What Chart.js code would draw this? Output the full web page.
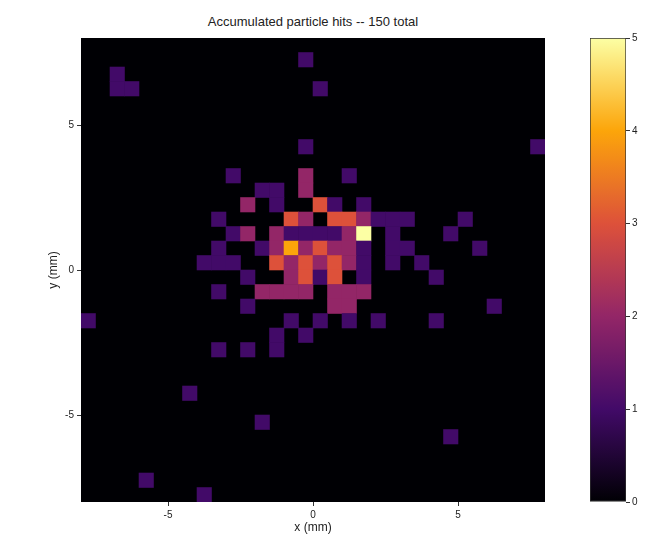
<!DOCTYPE html>
<html>
<head>
<meta charset="utf-8">
<script src="https://cdn.jsdelivr.net/npm/chart.js@4/dist/chart.umd.min.js"></script>
<style>
  body { margin: 0; background: #fff; font-family: "Liberation Sans", Arial, sans-serif; }
  #wrap { position: relative; width: 650px; height: 550px; }
  #title { position: absolute; top: 14px; left: 81px; width: 464px; text-align: center; font-size: 13px; color: #222; }
  #main { position: absolute; left: 0; top: 0; }
  #bar { position: absolute; left: 560px; top: 0; }
</style>
</head>
<body>
<div id="wrap">
  <div id="title">Accumulated particle hits -- 150 total</div>
  <canvas id="main" width="560" height="550"></canvas>
  <canvas id="bar" width="90" height="550"></canvas>
</div>
<script>
// 32x32 bins of 0.5 mm from -8 to 8 mm; only non-empty bins are listed
// binCol counts from the left edge, binRow from the top edge
const binCol = [15,2,2,3,16,15,31,7,12,25,4,8,0,
  10,15,18, 12,13,15, 11,13,16,17,19,
  9,14,15,17,18,19,20,21,22,26,
  10,11,13,14,15,16,17,18,19,21,25,
  9,12,13,14,15,16,17,18,19,21,22,27,
  8,9,10,13,14,15,16,17,18,19,21,23,
  11,14,15,16,17,19,24,
  9,12,13,14,15,17,18,19,
  11,17,18,28,
  14,16,18,20,24,
  13,15,
  9,11,13];
const binRow = [1,2,3,3,3,7,7,24,26,27,30,31,19,
  9,9,9, 10,10,10, 11,11,11,11,11,
  12,12,12,12,12,12,12,12,12,12,
  13,13,13,13,13,13,13,13,13,13,13,
  14,14,14,14,14,14,14,14,14,14,14,14,
  15,15,15,15,15,15,15,15,15,15,15,15,
  16,16,16,16,16,16,16,
  17,17,17,17,17,17,17,17,
  18,18,18,18,
  19,19,19,19,19,
  20,20,
  21,21,21];
const hits = [1,1,1,1,1,1,1,1,1,1,1,1,1,
  1,2,1, 1,1,2, 2,1,3,1,1,
  1,3,2,3,3,2,1,1,1,1,
  1,2,2,1,1,1,1,2,5,1,1,
  1,1,2,4,2,3,2,2,1,1,1,1,
  1,1,1,3,2,3,2,3,2,1,1,1,
  1,2,3,1,3,1,1,
  1,2,2,2,2,2,2,2,
  1,2,2,1,
  1,1,1,1,1,
  1,1,
  1,1,1];
const axisMin = -8, axisMax = 8, binWidth = 0.5;
const axisTicks = [-5, 0, 5];
const colorTicks = [0, 1, 2, 3, 4, 5];

// inferno colormap sampled at count = 0..5
const inferno = ['#000004', '#420a68', '#932667', '#dd513a', '#fca50a', '#fcffa4'];

function hexRgb(h) {
  return [parseInt(h.slice(1, 3), 16), parseInt(h.slice(3, 5), 16), parseInt(h.slice(5, 7), 16)];
}
function countColor(v) {
  const i = Math.min(Math.floor(v), inferno.length - 2);
  const t = v - i;
  const a = hexRgb(inferno[i]), b = hexRgb(inferno[i + 1]);
  return 'rgb(' + a.map((c, k) => Math.round(c + (b[k] - c) * t)).join(',') + ')';
}

const points = hits.map((h, i) => ({
  x: axisMin + binWidth * (binCol[i] + 0.5),
  y: axisMax - binWidth * (binRow[i] + 0.5),
  v: h
}));

// black fill behind the plot area (empty bins)
const darkArea = {
  id: 'darkArea',
  beforeDatasetsDraw(chart) {
    const a = chart.chartArea;
    chart.ctx.save();
    chart.ctx.fillStyle = inferno[0];
    chart.ctx.fillRect(a.left, a.top, a.right - a.left, a.bottom - a.top);
    chart.ctx.restore();
  }
};

const tickFont = { family: 'Liberation Sans', size: 10 };
const titleFont = { family: 'Liberation Sans', size: 12 };

new Chart(document.getElementById('main'), {
  type: 'scatter',
  data: {
    datasets: [{
      data: points,
      pointStyle: 'rect',
      borderWidth: 0,
      backgroundColor: c => countColor(c.raw ? c.raw.v : 0),
      radius: c => {
        const s = c.chart.scales.x;
        const side = Math.abs(s.getPixelForValue(binWidth) - s.getPixelForValue(0));
        return (side + 0.6) / Math.SQRT2;
      }
    }]
  },
  plugins: [darkArea],
  options: {
    responsive: false,
    animation: false,
    events: [],
    layout: { padding: { left: 42, top: 38, right: 15, bottom: 11 } },
    plugins: { legend: { display: false }, tooltip: { enabled: false } },
    scales: {
      x: {
        type: 'linear', min: axisMin, max: axisMax,
        afterBuildTicks: s => { s.ticks = axisTicks.map(v => ({ value: v })); },
        afterFit: s => { s.height = 37; },
        grid: { drawOnChartArea: false, tickLength: 4, color: '#333' },
        border: { display: false },
        ticks: { color: '#222', font: tickFont, padding: 3 },
        title: { display: true, text: 'x (mm)', color: '#222', font: titleFont }
      },
      y: {
        type: 'linear', min: axisMin, max: axisMax,
        afterBuildTicks: s => { s.ticks = axisTicks.map(v => ({ value: v })); },
        afterFit: s => { s.width = 39; },
        grid: { drawOnChartArea: false, tickLength: 4, color: '#333' },
        border: { display: false },
        ticks: { color: '#222', font: tickFont, padding: 3 },
        title: { display: true, text: 'y (mm)', color: '#222', font: titleFont }
      }
    }
  }
});

// colour bar: one floating bar 0..5 filled with the colormap gradient
new Chart(document.getElementById('bar'), {
  type: 'bar',
  data: {
    labels: [''],
    datasets: [{
      data: [[colorTicks[0], colorTicks[colorTicks.length - 1]]],
      barPercentage: 1,
      categoryPercentage: 1,
      borderWidth: 1,
      borderSkipped: false,
      borderColor: '#333',
      backgroundColor: c => {
        const a = c.chart.chartArea;
        if (!a) return inferno[0];
        const g = c.chart.ctx.createLinearGradient(0, a.bottom, 0, a.top);
        for (let k = 0; k <= 50; k++) g.addColorStop(k / 50, countColor(k / 10));
        return g;
      }
    }]
  },
  options: {
    responsive: false,
    animation: false,
    events: [],
    layout: { padding: { left: 30, top: 38, right: 0, bottom: 48 } },
    plugins: { legend: { display: false }, tooltip: { enabled: false } },
    scales: {
      x: { display: false },
      y: {
        position: 'right', min: 0, max: 5,
        afterBuildTicks: s => { s.ticks = colorTicks.map(v => ({ value: v })); },
        afterFit: s => { s.width = 24; },
        grid: { drawOnChartArea: false, tickLength: 4, color: '#333' },
        border: { display: false },
        ticks: { color: '#222', font: tickFont, padding: 2 }
      }
    }
  }
});
</script>
</body>
</html>
